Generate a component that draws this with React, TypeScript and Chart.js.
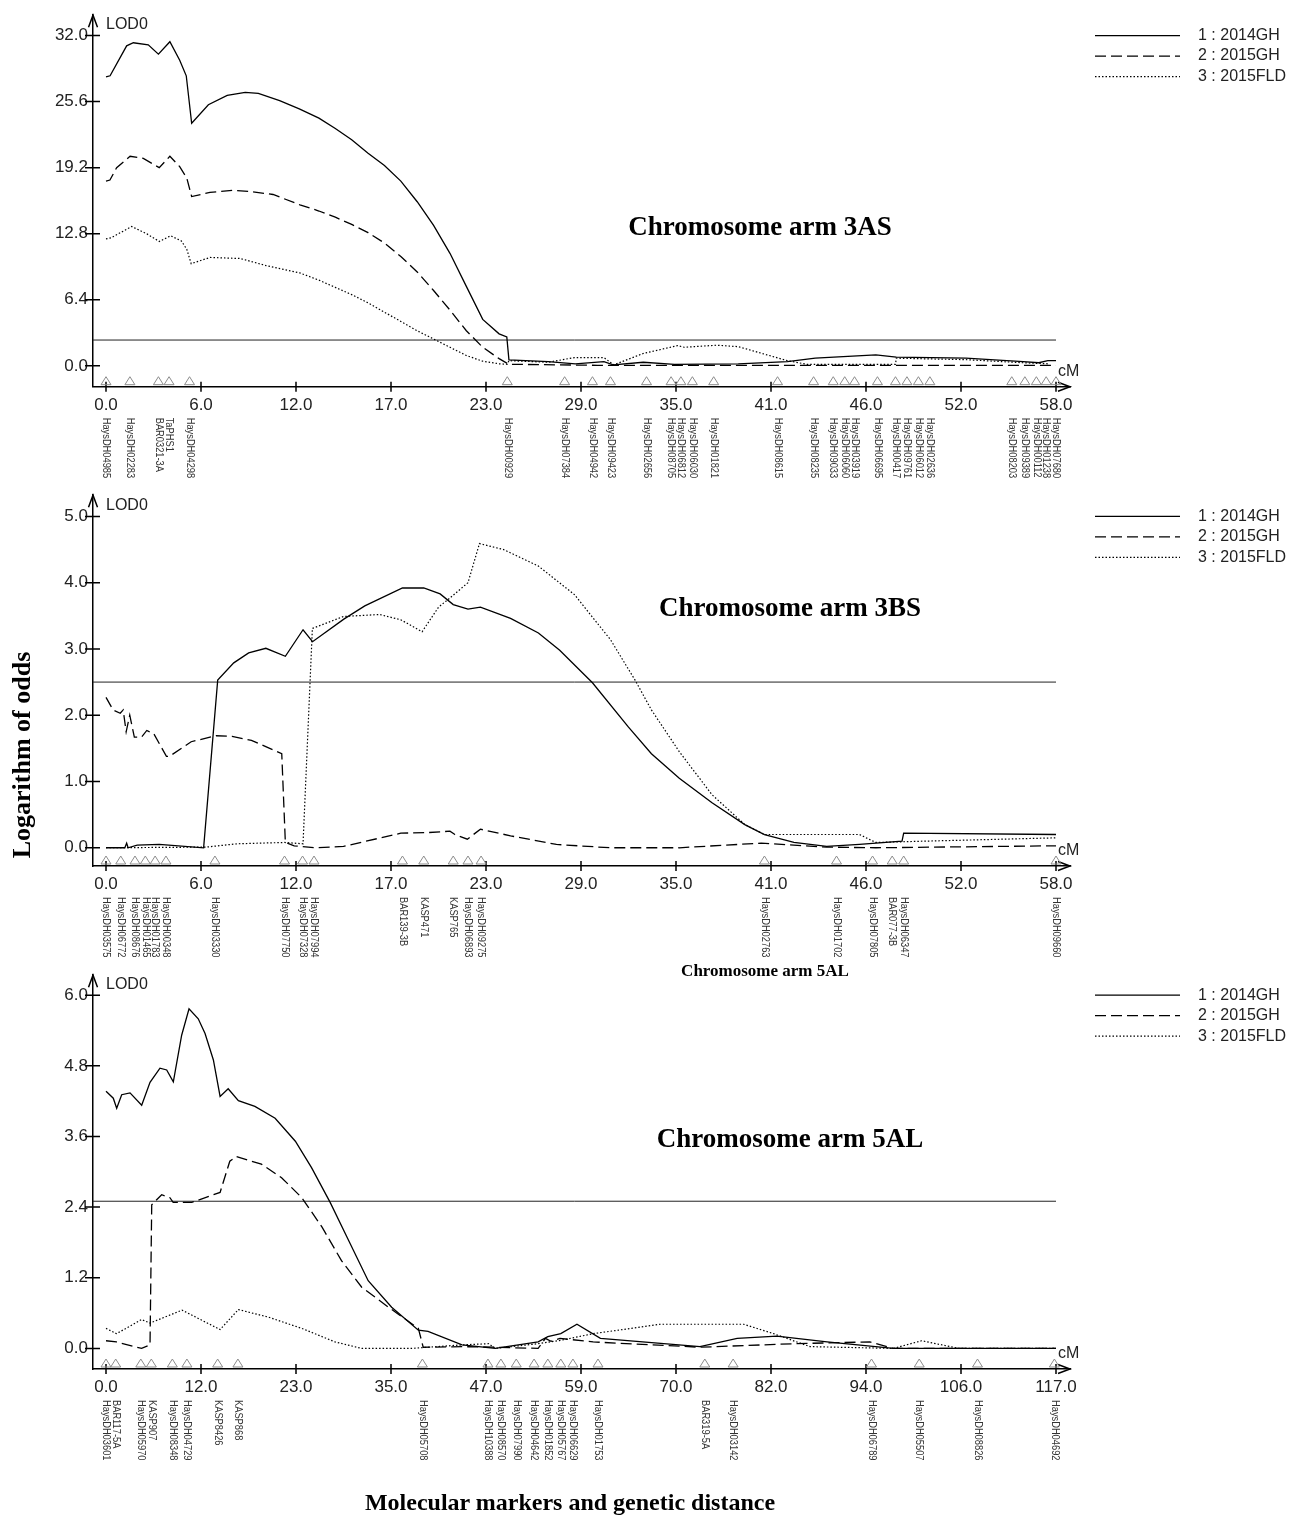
import React, { useEffect, useRef } from 'react';
import { Chart, registerables } from 'chart.js';

Chart.register(...registerables);

type Pt = [number, number];

// ---------------- data ----------------
const SERIES_LABELS = ['1 : 2014GH', '2 : 2015GH', '3 : 2015FLD'];
const THRESHOLD = 2.5;

// Panel 1: Chromosome arm 3AS
const A3_2014GH: Pt[] = [[0, 28.0], [0.25, 28.1], [1.26, 31.0], [1.67, 31.3], [2.58, 31.1], [3.2, 30.2], [3.9, 31.4], [4.5, 29.6], [4.9, 28.1], [5.23, 23.5], [6.25, 25.3], [7.4, 26.2], [8.5, 26.5], [9.3, 26.4], [10.6, 25.7], [11.8, 24.9], [13, 24.0], [14, 23.0], [15, 21.9], [16, 20.6], [17, 19.4], [18, 17.9], [19, 15.9], [20, 13.6], [21, 10.9], [22, 7.7], [23, 4.5], [24, 3.1], [24.47, 2.8], [24.6, 0.58], [27.0, 0.41], [28.65, 0.19], [30.4, 0.41], [30.97, 0.1], [32.8, 0.35], [34.7, 0.15], [38.6, 0.19], [41.6, 0.41], [43.3, 0.74], [47.0, 1.06], [48.25, 0.84], [52.5, 0.74], [56.0, 0.41], [56.95, 0.3], [57.5, 0.5], [58, 0.5]];
const A3_2015GH: Pt[] = [[0, 17.9], [0.24, 18.0], [0.65, 19.2], [1.47, 20.3], [2.28, 20.1], [3.25, 19.2], [3.9, 20.3], [4.5, 19.3], [4.93, 18.2], [5.23, 16.4], [6.35, 16.8], [7.77, 17.0], [8.8, 16.9], [10.2, 16.6], [11.84, 15.6], [13, 15.0], [14, 14.4], [15, 13.7], [16, 12.9], [17, 11.9], [18, 10.6], [19, 9.1], [20, 7.3], [21, 5.4], [22, 3.4], [23, 1.8], [24, 0.7], [24.6, 0.15], [30, 0.05], [40, 0.05], [58, 0.05]];
const A3_2015FLD: Pt[] = [[0, 12.3], [0.3, 12.4], [1.57, 13.5], [2.48, 12.8], [3.25, 12.05], [3.95, 12.6], [4.6, 12.1], [4.93, 11.3], [5.2, 9.9], [6.35, 10.5], [8.2, 10.4], [9.8, 9.7], [11.84, 9.0], [13, 8.3], [14, 7.6], [15, 6.9], [16, 6.1], [17, 5.2], [18, 4.3], [19, 3.4], [20, 2.6], [21, 1.8], [22, 1.0], [23, 0.45], [24, 0.2], [24.5, 0.15], [24.6, 0.5], [27, 0.35], [28.6, 0.8], [30.4, 0.8], [31, 0.1], [32.8, 1.2], [34.9, 1.96], [35.3, 1.8], [37.3, 2.0], [38.6, 1.86], [41.6, 0.5], [42.8, 0.15], [48.2, 0.15], [48.25, 0.74], [52.5, 0.6], [56, 0.3], [57.5, 0.2]];
const A3_MARKERS: [string, number][] = [['HaysDH04985', 0.0], ['HaysDH02283', 1.46], ['BAR0321-3A', 3.2], ['TaPHS1', 3.85], ['HaysDH04298', 5.1], ['HaysDH00929', 24.5], ['HaysDH07384', 28.0], ['HaysDH04942', 29.7], ['HaysDH09423', 30.8], ['HaysDH02656', 33.0], ['HaysDH08705', 34.5], ['HaysDH06812', 35.1], ['HaysDH06030', 35.8], ['HaysDH01821', 37.1], ['HaysDH08615', 41.0], ['HaysDH08235', 43.2], ['HaysDH09033', 44.4], ['HaysDH06060', 45.1], ['HaysDH03919', 45.7], ['HaysDH06695', 47.1], ['HaysDH00417', 48.2], ['HaysDH09761', 48.9], ['HaysDH06012', 49.6], ['HaysDH02636', 50.3], ['HaysDH08203', 55.3], ['HaysDH09389', 56.1], ['HaysDH00112', 56.8], ['HaysDH01238', 57.4], ['HaysDH07680', 58.0]];
const A3_Y_TICKS = [0, 6.4, 12.8, 19.2, 25.6, 32.0];
const A3_LENGTH = 58;

// Panel 2: Chromosome arm 3BS
const B3_2014GH: Pt[] = [[0, 0], [1.15, 0], [1.26, 0.07], [1.35, 0], [1.9, 0.04], [3.25, 0.05], [5.96, 0], [6.82, 2.53], [7.8, 2.79], [8.71, 2.94], [9.76, 3.01], [10.95, 2.89], [12.03, 3.29], [12.61, 3.11], [14.52, 3.45], [15.8, 3.65], [18.1, 3.92], [19.4, 3.92], [20.4, 3.83], [21.2, 3.67], [22.1, 3.6], [22.86, 3.63], [24.7, 3.46], [26.4, 3.24], [27.7, 2.98], [29.7, 2.49], [31.9, 1.82], [33.3, 1.42], [35, 1.05], [37, 0.68], [39, 0.35], [40.2, 0.2], [42, 0.08], [44, 0.02], [46, 0.05], [48.6, 0.1], [48.7, 0.22], [58, 0.2]];
const B3_2015GH: Pt[] = [[0, 2.27], [0.43, 2.08], [0.87, 2.03], [1.05, 2.08], [1.23, 1.75], [1.45, 2.0], [1.73, 1.67], [2.17, 1.67], [2.49, 1.77], [2.92, 1.72], [3.69, 1.38], [3.88, 1.38], [5.2, 1.6], [6.72, 1.69], [7.7, 1.68], [8.88, 1.62], [10.73, 1.42], [10.95, 0.08], [11.49, 0.03], [12.8, 0.0], [14.5, 0.02], [18.0, 0.22], [19.7, 0.23], [21.0, 0.25], [21.3, 0.2], [22.06, 0.13], [22.86, 0.28], [24.7, 0.18], [27.5, 0.05], [30.8, 0.0], [35, 0.0], [40, 0.07], [44, 0.01], [47, 0.0], [58, 0.03]];
const B3_2015FLD: Pt[] = [[0, 0], [6.1, 0.01], [8.0, 0.06], [10.9, 0.08], [12.03, 0.06], [12.6, 3.31], [14.5, 3.49], [16.7, 3.52], [18.0, 3.44], [19.3, 3.26], [20.3, 3.63], [21.0, 3.77], [22.1, 4.0], [22.8, 4.59], [24.27, 4.5], [26.4, 4.25], [28.6, 3.82], [30.8, 3.14], [32.3, 2.53], [33.3, 2.08], [35, 1.45], [37, 0.8], [39, 0.35], [40.2, 0.2], [46, 0.2], [47, 0.08], [50, 0.1], [58, 0.15]];
const B3_MARKERS: [string, number][] = [['HaysDH03575', 0.0], ['HaysDH06772', 0.9], ['HaysDH08676', 1.77], ['HaysDH01465', 2.4], ['HaysDH01783', 3.0], ['HaysDH00348', 3.66], ['HaysDH03330', 6.65], ['HaysDH07750', 10.9], ['HaysDH07328', 12.0], ['HaysDH07994', 12.7], ['BAR139-3B', 18.1], ['KASP471', 19.4], ['KASP765', 21.2], ['HaysDH06893', 22.1], ['HaysDH09275', 22.9], ['HaysDH02763', 40.2], ['HaysDH01702', 44.6], ['HaysDH07805', 46.8], ['BAR077-3B', 48.0], ['HaysDH06347', 48.7], ['HaysDH09660', 58.0]];
const B3_Y_TICKS = [0, 1, 2, 3, 4, 5];
const B3_LENGTH = 58;

// Panel 3: Chromosome arm 5AL
const A5_2014GH: Pt[] = [[0, 4.37], [0.9, 4.25], [1.32, 4.08], [1.94, 4.31], [2.97, 4.34], [4.41, 4.13], [5.44, 4.52], [6.67, 4.76], [7.5, 4.73], [8.32, 4.53], [9.35, 5.32], [10.26, 5.77], [11.4, 5.6], [12.24, 5.35], [13.27, 4.9], [14.1, 4.28], [15.1, 4.41], [16.36, 4.21], [18.4, 4.11], [20.9, 3.91], [23.4, 3.52], [25.4, 3.07], [27.7, 2.48], [30.0, 1.83], [32.4, 1.15], [35.3, 0.7], [38.6, 0.31], [39.8, 0.29], [44.0, 0.06], [48.1, 0.0], [53.4, 0.11], [54.6, 0.2], [56.2, 0.25], [58.2, 0.41], [61.1, 0.17], [73.4, 0.03], [78.0, 0.17], [82.9, 0.21], [89.1, 0.11], [97.3, 0.0], [117.4, 0.0]];
const A5_2015GH: Pt[] = [[0, 0.13], [1.3, 0.11], [4.4, 0.0], [5.44, 0.06], [5.65, 2.44], [6.88, 2.61], [7.9, 2.56], [8.3, 2.48], [10.6, 2.48], [14.1, 2.65], [15.3, 3.18], [16.1, 3.26], [19.2, 3.13], [21.7, 2.9], [24.2, 2.56], [26.7, 2.06], [29.1, 1.49], [31.6, 1.04], [34.9, 0.7], [38.6, 0.34], [39.2, 0.02], [44, 0.03], [48, 0.02], [53.4, 0.0], [54.3, 0.17], [55, 0.12], [56.1, 0.17], [60.2, 0.11], [73.4, 0.02], [85.0, 0.08], [94.4, 0.11], [97.3, 0.0], [117.4, 0.0]];
const A5_2015FLD: Pt[] = [[0, 0.34], [1.3, 0.25], [4.4, 0.49], [5.44, 0.43], [9.4, 0.65], [14.1, 0.32], [16.36, 0.66], [20.1, 0.53], [24.2, 0.34], [28.3, 0.11], [31.6, 0.0], [37.8, 0.0], [44, 0.06], [47.3, 0.08], [48.1, 0.0], [53.4, 0.08], [56.3, 0.14], [60.2, 0.25], [68.5, 0.41], [78.8, 0.41], [82.5, 0.25], [87.0, 0.03], [97.3, 0.0], [100.8, 0.13], [105.4, 0.0], [117.4, 0.0]];
const A5_MARKERS: [string, number][] = [['HaysDH03601', 0.0], ['BAR117-5A', 1.2], ['HaysDH05970', 4.3], ['KASP907', 5.6], ['HaysDH08348', 8.2], ['HaysDH04729', 10.0], ['KASP8426', 13.8], ['KASP868', 16.3], ['HaysDH05708', 39.1], ['HaysDH10388', 47.2], ['HaysDH08570', 48.8], ['HaysDH07990', 50.7], ['HaysDH04642', 52.9], ['HaysDH01852', 54.6], ['HaysDH05767', 56.2], ['HaysDH06629', 57.7], ['HaysDH01753', 60.8], ['BAR319-5A', 74.0], ['HaysDH03142', 77.5], ['HaysDH06789', 94.6], ['HaysDH05507', 100.5], ['HaysDH08826', 107.7], ['HaysDH04692', 117.2]];
const A5_Y_TICKS = [0, 1.2, 2.4, 3.6, 4.8, 6.0];
const A5_LENGTH = 117.4;

// ---------------- layout ----------------
const W = 1314;
const AXIS_LEFT = 93;
const AXIS_RIGHT = 1070;
const DATA_LEFT = 106;
const DATA_RIGHT = 1056;

const PANELS = [
  { top: 0, height: 500, arrowY: 12.7, axisY: 386.7, yMin: -2.02, yMax: 33.97, yTicks: A3_Y_TICKS, len: A3_LENGTH, series: [A3_2014GH, A3_2015GH, A3_2015FLD], markers: A3_MARKERS },
  { top: 480, height: 500, arrowY: 494, axisY: 866, yMin: -0.275, yMax: 5.32, yTicks: B3_Y_TICKS, len: B3_LENGTH, series: [B3_2014GH, B3_2015GH, B3_2015FLD], markers: B3_MARKERS },
  { top: 960, height: 560, arrowY: 973, axisY: 1369, yMin: -0.35, yMax: 6.34, yTicks: A5_Y_TICKS, len: A5_LENGTH, series: [A5_2014GH, A5_2015GH, A5_2015FLD], markers: A5_MARKERS },
];

const DASHES = [[], [11, 5], [1.5, 2]];
const WIDTHS = [1.3, 1.3, 1.2];
const SANS = '"Liberation Sans", Arial, sans-serif';
const SERIF = '"Liberation Serif", "Times New Roman", serif';

type PanelCfg = typeof PANELS[number];

function Panel({ cfg }: { cfg: PanelCfg }) {
  const ref = useRef<HTMLCanvasElement>(null);
  useEffect(() => {
    const canvas = ref.current!;
    const pxPerUnit = (DATA_RIGHT - DATA_LEFT) / cfg.len;
    const xMin = -(DATA_LEFT - AXIS_LEFT) / pxPerUnit;
    const xMax = cfg.len + (AXIS_RIGHT - DATA_RIGHT) / pxPerUnit;
    const xTicks = Array.from({ length: 11 }, (_, i) => (cfg.len * i) / 10);
    const localArrow = cfg.arrowY - cfg.top;
    const localAxis = cfg.axisY - cfg.top;

    const decor = {
      id: 'decor',
      afterDraw(chart: any) {
        const ctx = chart.ctx as CanvasRenderingContext2D;
        const ca = chart.chartArea;
        const xs = chart.scales.x;
        const ys = chart.scales.y;
        ctx.save();
        ctx.strokeStyle = '#000';
        ctx.lineWidth = 1.5;
        ctx.setLineDash([]);
        // arrows
        ctx.beginPath();
        ctx.moveTo(ca.left - 4.5, ca.top + 12);
        ctx.lineTo(ca.left, ca.top);
        ctx.lineTo(ca.left + 4.5, ca.top + 12);
        ctx.moveTo(ca.right - 12, ca.bottom - 4.5);
        ctx.lineTo(ca.right, ca.bottom);
        ctx.lineTo(ca.right - 12, ca.bottom + 4.5);
        ctx.stroke();
        // crossing tick marks
        ctx.beginPath();
        for (const v of xTicks) {
          const p = xs.getPixelForValue(v);
          ctx.moveTo(p, ca.bottom - 5);
          ctx.lineTo(p, ca.bottom + 5);
        }
        for (const v of cfg.yTicks) {
          const p = ys.getPixelForValue(v);
          ctx.moveTo(ca.left - 8, p);
          ctx.lineTo(ca.left + 7, p);
        }
        ctx.stroke();
        // marker triangles
        ctx.strokeStyle = '#8c8c8c';
        ctx.lineWidth = 1;
        for (const [, pos] of cfg.markers) {
          const p = xs.getPixelForValue(pos);
          ctx.beginPath();
          ctx.moveTo(p - 5, ca.bottom - 2);
          ctx.lineTo(p, ca.bottom - 10);
          ctx.lineTo(p + 5, ca.bottom - 2);
          ctx.closePath();
          ctx.stroke();
        }
        // marker labels
        ctx.fillStyle = '#333';
        ctx.font = `10px ${SANS}`;
        ctx.textAlign = 'left';
        ctx.textBaseline = 'middle';
        for (const [name, pos] of cfg.markers) {
          const p = xs.getPixelForValue(pos);
          ctx.save();
          ctx.translate(p, ca.bottom + 31);
          ctx.rotate(Math.PI / 2);
          ctx.scale(0.93, 1);
          ctx.fillText(name, 0, 0);
          ctx.restore();
        }
        // axis names
        const topTick = ys.getPixelForValue(cfg.yTicks[cfg.yTicks.length - 1]);
        ctx.fillStyle = '#222';
        ctx.font = `16px ${SANS}`;
        ctx.fillText('LOD0', ca.left + 13, topTick - 11);
        ctx.fillText('cM', ca.right - 12, ca.bottom - 15);
        // legend
        chart.data.datasets.slice(0, 3).forEach((ds: any, i: number) => {
          const y = topTick + i * 20.5;
          ctx.strokeStyle = '#000';
          ctx.lineWidth = 1.2;
          ctx.setLineDash(DASHES[i]);
          ctx.beginPath();
          ctx.moveTo(1095, y);
          ctx.lineTo(1180, y);
          ctx.stroke();
          ctx.setLineDash([]);
          ctx.fillStyle = '#222';
          ctx.font = `16px ${SANS}`;
          ctx.textAlign = 'left';
          ctx.fillText(ds.label, 1198, y);
        });
        ctx.restore();
      },
    };

    const chart = new Chart(canvas, {
      type: 'line',
      data: {
        datasets: [
          ...cfg.series.map((s, i) => ({
            label: SERIES_LABELS[i],
            data: s.map(([x, y]) => ({ x, y })),
            borderColor: '#000',
            borderWidth: WIDTHS[i],
            borderDash: DASHES[i],
            pointRadius: 0,
            tension: 0,
            fill: false,
          })),
          {
            label: 'threshold',
            data: [{ x: xMin, y: THRESHOLD }, { x: cfg.len, y: THRESHOLD }],
            borderColor: '#222',
            borderWidth: 1,
            pointRadius: 0,
            fill: false,
          },
        ],
      },
      options: {
        responsive: false,
        animation: false,
        events: [],
        layout: { padding: { top: localArrow, left: 0, right: W - AXIS_RIGHT, bottom: 0 } },
        plugins: { legend: { display: false }, tooltip: { enabled: false } },
        scales: {
          x: {
            type: 'linear',
            min: xMin,
            max: xMax,
            grid: { display: false, drawTicks: false },
            border: { display: true, color: '#000', width: 1.5 },
            afterBuildTicks: (s: any) => { s.ticks = xTicks.map((v) => ({ value: v })); },
            afterFit: (s: any) => { s.height = cfg.height - localAxis; },
            ticks: {
              autoSkip: false,
              maxRotation: 0,
              minRotation: 0,
              padding: 8,
              color: '#222',
              font: { family: SANS, size: 17 },
              callback: (v: any) => Math.round(Number(v)).toFixed(1),
            },
          },
          y: {
            type: 'linear',
            min: cfg.yMin,
            max: cfg.yMax,
            grid: { display: false, drawTicks: false },
            border: { display: true, color: '#000', width: 1.5 },
            afterBuildTicks: (s: any) => { s.ticks = cfg.yTicks.map((v) => ({ value: v })); },
            afterFit: (s: any) => { s.width = AXIS_LEFT; },
            ticks: {
              autoSkip: false,
              padding: 5,
              color: '#222',
              font: { family: SANS, size: 17 },
              callback: (v: any) => Number(v).toFixed(1),
            },
          },
        },
      },
      plugins: [decor],
    } as any);
    return () => chart.destroy();
  }, [cfg]);

  return (
    <canvas
      ref={ref}
      width={W}
      height={cfg.height}
      style={{ position: 'absolute', left: 0, top: cfg.top, width: W, height: cfg.height }}
    />
  );
}

const TITLES = [
  { text: 'Chromosome arm 3AS', x: 760, y: 226, size: 27 },
  { text: 'Chromosome arm 3BS', x: 790, y: 607, size: 27 },
  { text: 'Chromosome arm 5AL', x: 790, y: 1138, size: 27 },
  { text: 'Chromosome arm 5AL', x: 765, y: 971, size: 17 },
];

export default function App() {
  return (
    <div style={{ position: 'absolute', left: 0, top: 0, width: W, height: 1520, background: '#fff', overflow: 'hidden' }}>
      {PANELS.map((p, i) => <Panel key={i} cfg={p} />)}
      {TITLES.map((t, i) => (
        <div key={i} style={{ position: 'absolute', left: t.x - 300, top: t.y - t.size * 0.6, width: 600, textAlign: 'center', fontFamily: SERIF, fontWeight: 'bold', fontSize: t.size, lineHeight: `${t.size * 1.2}px`, color: '#000', whiteSpace: 'nowrap' }}>{t.text}</div>
      ))}
      <div style={{ position: 'absolute', left: 22 - 150, top: 755 - 15, width: 300, height: 30, textAlign: 'center', transform: 'rotate(-90deg)', fontFamily: SERIF, fontWeight: 'bold', fontSize: 26, lineHeight: '30px', whiteSpace: 'nowrap' }}>Logarithm of odds</div>
      <div style={{ position: 'absolute', left: 570 - 300, top: 1502 - 15, width: 600, textAlign: 'center', fontFamily: SERIF, fontWeight: 'bold', fontSize: 24, lineHeight: '30px', whiteSpace: 'nowrap' }}>Molecular markers and genetic distance</div>
    </div>
  );
}
